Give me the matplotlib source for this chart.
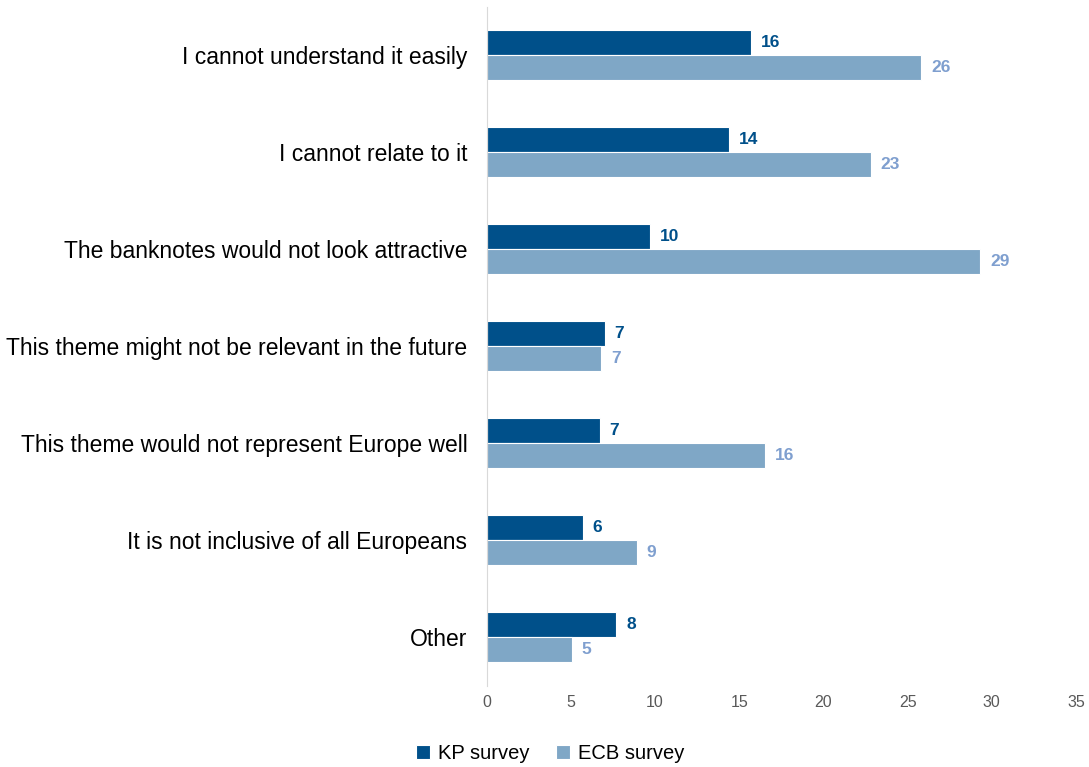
import numpy as np
import matplotlib.pyplot as plt

plt.rcParams["font.family"] = ["Liberation Sans", "DejaVu Sans"]

# =========================
# DATA
# =========================

categories = [
    "I cannot understand it easily",
    "I cannot relate to it",
    "The banknotes would not look attractive",
    "This theme might not be relevant in the future",
    "This theme would not represent Europe well",
    "It is not inclusive of all Europeans",
    "Other",
]

kp_values = [15.7, 14.4, 9.7, 7.0, 6.7, 5.7, 7.7]
ecb_values = [25.8, 22.8, 29.3, 6.8, 16.5, 8.9, 5.05]

kp_labels = ["16", "14", "10", "7", "7", "6", "8"]
ecb_labels = ["26", "23", "29", "7", "16", "9", "5"]

DARK = "#00508a"
LIGHT = "#7fa7c6"
LIGHT_TEXT = "#7f9fcf"

# =========================
# PLOT
# =========================

fig = plt.figure(figsize=(10.89, 7.67), dpi=100)
ax = fig.add_axes([0.447, 0.106, 0.541, 0.8855])

y = np.arange(len(categories))
h = 0.26

ax.barh(y - h / 2, kp_values, height=h, color=DARK, edgecolor="white",
        linewidth=0.8, label="KP survey")
ax.barh(y + h / 2, ecb_values, height=h, color=LIGHT, edgecolor="white",
        linewidth=0.8, label="ECB survey")

for i in range(len(categories)):
    ax.text(kp_values[i] + 0.6, y[i] - h / 2, kp_labels[i], va="center",
            ha="left", fontsize=12.5, fontweight="bold", color=DARK)
    ax.text(ecb_values[i] + 0.6, y[i] + h / 2, ecb_labels[i], va="center",
            ha="left", fontsize=12.5, fontweight="bold", color=LIGHT_TEXT)

ax.set_xlim(0, 35)
ax.set_ylim(len(categories) - 0.5, -0.5)
ax.set_xticks(range(0, 36, 5))
ax.set_yticks(y)
ax.set_yticklabels(categories, fontsize=16.5)
ax.tick_params(axis="y", length=0, pad=14)
ax.tick_params(axis="x", length=0, pad=7, labelsize=11.5, labelcolor="#595959")

for side in ["top", "right", "bottom"]:
    ax.spines[side].set_visible(False)
ax.spines["left"].set_color("#d9d9d9")

ax.legend(loc="center", bbox_to_anchor=(0.108, -0.1), ncol=2, frameon=False,
          fontsize=14.5, handlelength=0.7, handleheight=0.7, columnspacing=1.3,
          handletextpad=0.4)

plt.savefig("out.png", dpi=100)
